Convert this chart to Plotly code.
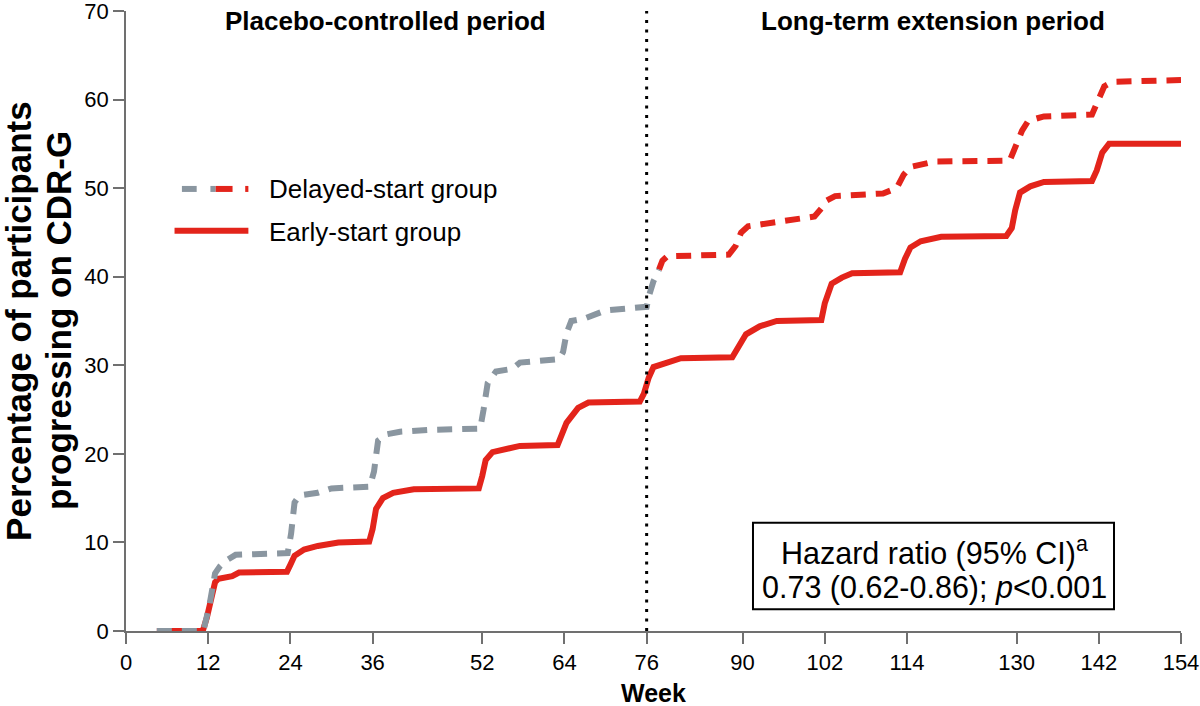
import plotly.graph_objects as go

# Kaplan-Meier style cumulative progression (%)
early_weeks = [4.5, 11.2, 11.8, 12.3, 13.0, 13.5, 15.5, 16.5, 23.5, 24.0, 24.6, 26.0, 28.0, 31.0,
               35.5, 36.0, 36.5, 37.5, 39.0, 42.0, 51.5, 52.0, 52.5, 53.5, 56.0, 57.5, 63.0,
               63.6, 64.3, 66.0, 67.5, 75.0, 75.6, 76.3, 77.0, 79.0, 81.0, 88.5, 89.3, 90.5,
               92.5, 95.0, 101.5, 102.0, 103.0, 104.5, 106.0, 113.0, 113.7, 114.5, 116.0,
               119.0, 128.5, 129.3, 129.8, 130.5, 132.0, 134.0, 141.0, 141.7, 142.5, 143.5, 154.0]
early_pct = [0, 0, 1.5, 3.5, 5.5, 5.9, 6.2, 6.6, 6.7, 7.5, 8.5, 9.2, 9.6, 10.0,
             10.1, 11.5, 13.8, 15.0, 15.6, 16.0, 16.1, 17.5, 19.3, 20.2, 20.6, 20.9, 21.0,
             22.0, 23.5, 25.2, 25.8, 25.9, 26.8, 28.6, 29.8, 30.3, 30.8, 30.9, 32.0, 33.5,
             34.4, 35.0, 35.1, 37.0, 39.2, 39.9, 40.4, 40.5, 42.0, 43.3, 44.0,
             44.5, 44.6, 45.5, 47.5, 49.5, 50.2, 50.7, 50.8, 52.0, 54.0, 55.0, 55.0]

# delayed-start group: placebo part (grey) then active treatment part (red)
delayed_pbo_weeks = [4.5, 11.3, 12.2, 13.0, 13.7, 14.5, 16.0, 23.6, 24.1, 24.6, 25.3, 28.0, 30.0,
                     35.6, 36.2, 36.8, 38.0, 40.0, 44.0, 51.7, 52.2, 52.8, 54.0, 56.4, 57.5,
                     63.2, 63.8, 64.3, 65.0, 67.0, 70.0, 76.0, 76.4, 77.0, 77.8]
delayed_pbo_pct = [0, 0, 3.0, 6.5, 7.3, 7.9, 8.6, 8.8, 11.0, 14.5, 15.3, 15.6, 16.1,
                   16.3, 18.0, 21.5, 22.2, 22.5, 22.7, 22.85, 25.0, 28.0, 29.3, 29.6, 30.3,
                   30.7, 31.5, 33.6, 35.0, 35.3, 36.2, 36.6, 38.0, 39.5, 40.8]
delayed_ext_weeks = [77.8, 78.3, 79.0, 88.0, 89.0, 89.8, 90.8, 94.5, 97.5, 100.5, 101.6, 102.3,
                     103.5, 110.5, 112.5, 113.5, 114.5, 118.0, 129.0, 130.0, 130.8, 131.7,
                     134.0, 141.0, 142.0, 142.8, 144.0, 154.0]
delayed_ext_pct = [40.8, 41.8, 42.3, 42.5, 43.5, 45.0, 45.7, 46.1, 46.5, 46.8, 47.8, 48.6,
                   49.1, 49.4, 50.0, 51.5, 52.4, 53.0, 53.1, 55.0, 56.5, 57.6,
                   58.1, 58.3, 60.0, 61.5, 62.0, 62.2]

week_ticks = [0, 12, 24, 36, 52, 64, 76, 90, 102, 114, 130, 142, 154]
extension_start = 76

RED = "#e3241b"
GREY = "#8a96a0"
AXIS = "#707070"
FONT = "Liberation Sans, Arial, sans-serif"
DASH = "15px,10px"

fig = go.Figure()
fig.add_trace(go.Scatter(x=early_weeks, y=early_pct, mode="lines", cliponaxis=False,
                         line=dict(color=RED, width=6), showlegend=False))
fig.add_trace(go.Scatter(x=delayed_ext_weeks, y=delayed_ext_pct, mode="lines", cliponaxis=False,
                         line=dict(color=RED, width=6, dash=DASH), showlegend=False))
fig.add_trace(go.Scatter(x=delayed_pbo_weeks, y=delayed_pbo_pct, mode="lines", cliponaxis=False,
                         line=dict(color=GREY, width=6, dash=DASH), showlegend=False))

# start of the long-term extension
fig.add_shape(type="line", xref="x", yref="y", x0=extension_start, x1=extension_start,
              y0=0, y1=70, line=dict(color="black", width=3, dash="3px,6.5px"))


def note(text, x, y, size, anchor="center", **kw):
    fig.add_annotation(x=x, y=y, xref="paper", yref="paper", text=text, showarrow=False,
                       xanchor=anchor, yanchor="middle", font=dict(size=size, color="black"), **kw)


# hand-made legend (the delayed sample switches colour like the original)
legend_bits = [(0.053, 0.067, GREY, 0.713), (0.080, 0.085, GREY, 0.713),
               (0.085, 0.101, RED, 0.713), (0.113, 0.116, RED, 0.713),
               (0.046, 0.116, RED, 0.6457)]
for x0, x1, col, yy in legend_bits:
    fig.add_shape(type="line", xref="paper", yref="paper", x0=x0, x1=x1, y0=yy, y1=yy,
                  line=dict(color=col, width=6))
note("Delayed-start group", 0.134, 0.713, 26, anchor="left")
note("Early-start group", 0.134, 0.644, 26, anchor="left")

# period headings
note("<b>Placebo-controlled period</b>", 0.2464, 0.984, 26)
note("<b>Long-term extension period</b>", 0.765, 0.984, 26)

# hazard ratio box
fig.add_shape(type="rect", xref="paper", yref="paper", x0=0.5943, x1=0.9365, y0=0.035, y1=0.1744,
              line=dict(color="black", width=2), fillcolor="white")
note("Hazard ratio (95% CI)<sup>a</sup>", 0.766, 0.1277, 30.5)
note("0.73 (0.62-0.86); <i>p</i><0.001", 0.766, 0.0709, 30.5)

# axis titles as annotations (tighter line spacing / lower placement than plotly's own)
note("<b>Percentage of participants</b>", -0.102, 0.5008, 35, textangle=-90)
note("<b>progressing on CDR-G</b>", -0.064, 0.5008, 35, textangle=-90)
note("<b>Week</b>", 0.5, -0.1, 25)

fig.update_layout(
    width=1200, height=706,
    margin=dict(l=126, r=19, t=11, b=75),
    plot_bgcolor="white", paper_bgcolor="white",
    font=dict(family=FONT, color="black"),
)
fig.update_xaxes(range=[0, 154], tickvals=week_ticks, ticks="outside", ticklen=11,
                 tickwidth=1.5, tickcolor=AXIS, showline=True, linecolor=AXIS,
                 linewidth=1.5, showgrid=False, zeroline=False, ticklabeloverflow="allow",
                 automargin=False, tickfont=dict(size=22, color="black"))
fig.update_yaxes(range=[0, 70], dtick=10, ticks="outside", ticklen=11,
                 tickwidth=1.5, tickcolor=AXIS, showline=True, linecolor=AXIS,
                 linewidth=1.5, showgrid=False, zeroline=False, ticklabeloverflow="allow",
                 automargin=False, tickfont=dict(size=22, color="black"))

fig.write_html("out.html", config={"displayModeBar": False},
               post_script="document.body.style.margin='0px';")
